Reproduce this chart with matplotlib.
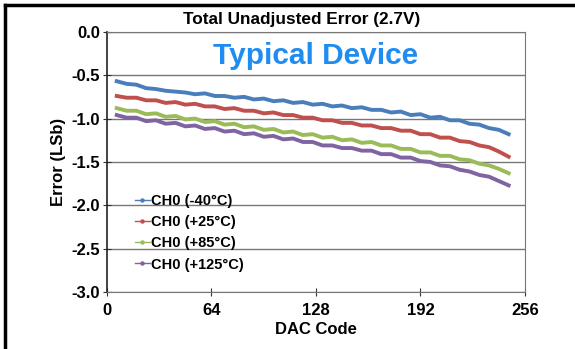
import matplotlib
matplotlib.use("Agg")
import matplotlib.pyplot as plt
from matplotlib.lines import Line2D

plt.rcParams['font.family'] = ['Liberation Sans', 'DejaVu Sans']

codes = [6, 12, 18, 24, 30, 36, 42, 48, 54, 60, 66, 72, 78, 84, 90, 96, 102, 108,
         114, 120, 126, 132, 138, 144, 150, 156, 162, 168, 174, 180, 186, 192, 198,
         204, 210, 216, 222, 228, 234, 240, 246]

err_m40 = [-0.57, -0.60, -0.61, -0.65, -0.66, -0.68, -0.69, -0.70, -0.72, -0.71,
           -0.74, -0.74, -0.76, -0.75, -0.78, -0.77, -0.80, -0.79, -0.82, -0.81,
           -0.84, -0.83, -0.86, -0.85, -0.88, -0.87, -0.90, -0.90, -0.93, -0.92,
           -0.96, -0.95, -0.99, -0.98, -1.02, -1.02, -1.06, -1.07, -1.11, -1.13, -1.18]
err_p25 = [-0.74, -0.76, -0.76, -0.79, -0.79, -0.82, -0.81, -0.84, -0.83, -0.86,
           -0.86, -0.89, -0.88, -0.91, -0.91, -0.94, -0.93, -0.96, -0.96, -0.99,
           -0.99, -1.02, -1.02, -1.05, -1.05, -1.08, -1.08, -1.11, -1.11, -1.14,
           -1.14, -1.18, -1.18, -1.22, -1.22, -1.26, -1.27, -1.31, -1.33, -1.38, -1.44]
err_p85 = [-0.88, -0.91, -0.91, -0.95, -0.94, -0.98, -0.97, -1.01, -1.00, -1.04,
           -1.03, -1.07, -1.06, -1.10, -1.09, -1.13, -1.12, -1.16, -1.15, -1.19,
           -1.18, -1.22, -1.21, -1.25, -1.24, -1.28, -1.27, -1.31, -1.31, -1.35,
           -1.35, -1.39, -1.39, -1.43, -1.43, -1.47, -1.48, -1.52, -1.54, -1.58, -1.63]
err_p125 = [-0.96, -0.99, -0.99, -1.03, -1.02, -1.06, -1.05, -1.09, -1.08, -1.12,
            -1.11, -1.15, -1.14, -1.18, -1.17, -1.21, -1.20, -1.24, -1.23, -1.27,
            -1.27, -1.31, -1.31, -1.34, -1.34, -1.37, -1.37, -1.41, -1.41, -1.45,
            -1.45, -1.49, -1.50, -1.54, -1.55, -1.59, -1.61, -1.65, -1.67, -1.72, -1.77]

series_labels = ["CH0 (-40°C)", "CH0 (+25°C)", "CH0 (+85°C)", "CH0 (+125°C)"]
colors = ["#4A7EBB", "#C0504D", "#9BBB59", "#8064A2"]
x_ticks = [0, 64, 128, 192, 256]
y_ticks = [0.0, -0.5, -1.0, -1.5, -2.0, -2.5, -3.0]

fig = plt.figure(figsize=(5.75, 3.49), dpi=100)
ax = fig.add_axes([0.186, 0.163, 0.727, 0.746])

for vals, lab, c in zip([err_m40, err_p25, err_p85, err_p125], series_labels, colors):
    ax.plot(codes, vals, color=c, lw=2.8, label=lab, solid_joinstyle='round')

ax.set_xlim(0, 256)
ax.set_ylim(-3.0, 0.0)
ax.set_xticks(x_ticks)
ax.set_yticks(y_ticks)
ax.set_yticklabels([f"{v:.1f}" for v in y_ticks])
ax.tick_params(axis='both', labelsize=12, direction='inout', length=6, width=0.8,
               colors='#333333', labelcolor='black')
ax.tick_params(axis='y', pad=2)
ax.tick_params(axis='x', pad=5)
for t in ax.get_xticklabels() + ax.get_yticklabels():
    t.set_fontweight('bold')
ax.grid(axis='y', color='#777777', lw=1.0)
ax.set_axisbelow(True)
for s in ['top', 'right', 'bottom']:
    ax.spines[s].set_color('#777777')
ax.spines['left'].set_color('#222222')
ax.spines['left'].set_linewidth(1.2)

ax.set_xlabel("DAC Code", fontsize=12, fontweight='bold', labelpad=3)
ax.set_ylabel("Error (LSb)", fontsize=12, fontweight='bold', labelpad=4)
fig.text(0.5245, 0.944, "Total Unadjusted Error (2.7V)", ha='center', va='center',
         fontsize=12.4, fontweight='bold')
ax.text(0.5, 0.905, "Typical Device", transform=ax.transAxes, ha='center', va='center',
        fontsize=21.5, fontweight='bold', color='#1E8CF0')

handles = [Line2D([0], [0], color=c, lw=1.0, marker='o', markersize=2.2) for c in colors]
leg = ax.legend(handles, series_labels, loc='upper left', bbox_to_anchor=(0.067, 0.378),
                frameon=False, handlelength=1.0, handletextpad=0.1,
                labelspacing=0.5, borderpad=0, borderaxespad=0,
                prop={'weight': 'bold', 'size': 10.5})

fig.add_artist(Line2D([0.009, 0.009], [0.0, 0.986], transform=fig.transFigure, color='black', lw=2.5))
fig.add_artist(Line2D([0.009, 1.0], [0.986, 0.986], transform=fig.transFigure, color='black', lw=2.5))

fig.savefig("out.png", dpi=100)
